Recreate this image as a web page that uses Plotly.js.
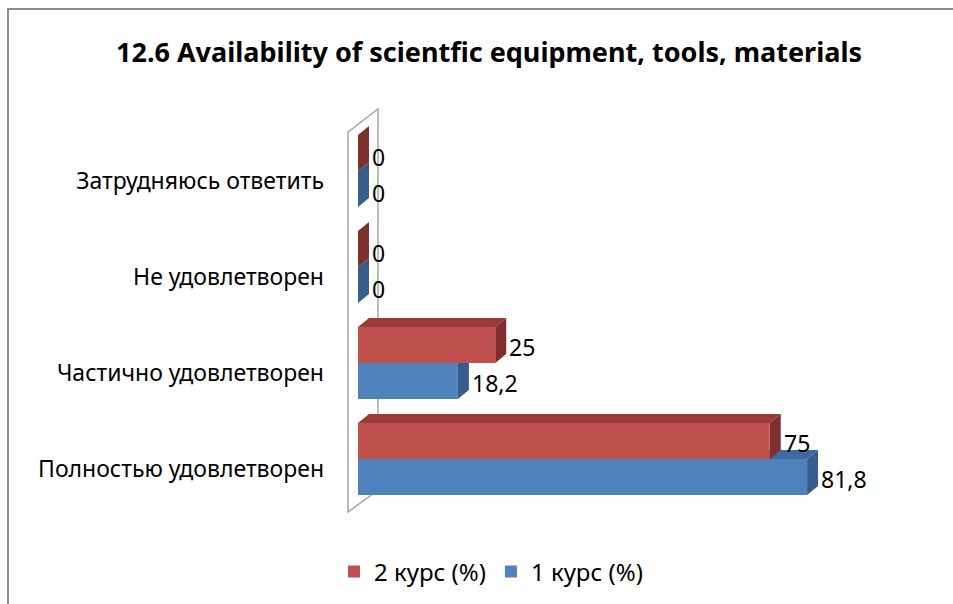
<!DOCTYPE html>
<html>
<head>
<meta charset="utf-8">
<script src="https://cdn.plot.ly/plotly-3.0.1.min.js"></script>
<style>
  html, body { margin: 0; padding: 0; overflow: hidden; background: #fff; }
  #wrap { position: relative; width: 953px; height: 604px; }
  #chart { position: absolute; left: 0; top: 0; width: 953px; height: 604px; }
  #frame { position: absolute; left: 7px; top: 8px; width: 1000px; height: 700px;
           border-left: 2px solid #8c8c8c; border-top: 2px solid #8c8c8c; pointer-events: none; }
</style>
</head>
<body>
<div id="wrap">
  <div id="chart"></div>
  <div id="frame"></div>
</div>
<script>
// ---- data ----
const categories = ["Полностью удовлетворен", "Частично удовлетворен", "Не удовлетворен", "Затрудняюсь ответить"];
const course1 = [81.8, 18.2, 0, 0];   // 1 курс (%)
const course2 = [75, 25, 0, 0];       // 2 курс (%)
const seriesNames = ["1 курс (%)", "2 курс (%)"];
const chartTitle = "12.6 Availability of scientfic equipment, tools, materials";

// ---- style ----
const FONT = "Noto Sans, Open Sans, sans-serif";
const blue = "#4F81BD", blueSide = "#385D8A", blueTop = "#3F6A9E";
const red = "#C0504D", redSide = "#7F302E", redTop = "#9B3B38";
const BAR_W = 0.375;          // half of group width (bargap 0.25)
const DX = 2.0;               // 3D depth along x (data units)
const DY = 0.094;             // 3D depth along y (category units)

const pos = categories.map((c, i) => i);

function faces(values, lower, sideColor, topColor) {
  const shapes = [];
  values.forEach((v, i) => {
    const y0 = lower ? i - BAR_W : i;
    const y1 = y0 + BAR_W;
    if (v > 0) {
      shapes.push({type: "path", layer: "below", xref: "x", yref: "y",
        path: `M0,${y1} L${v},${y1} L${v + DX},${y1 + DY} L${DX},${y1 + DY} Z`,
        fillcolor: topColor, line: {width: 0}});
    }
    shapes.push({type: "path", layer: "below", xref: "x", yref: "y",
      path: `M${v},${y0} L${v},${y1} L${v + DX},${y1 + DY} L${v + DX},${y0 + DY} Z`,
      fillcolor: sideColor, line: {width: 0}});
  });
  return shapes;
}

// back wall outline
const wall = {type: "path", layer: "below", xref: "x", yref: "y",
  path: "M-1.82,-0.552 L-1.82,3.406 L3.64,3.646 L3.64,-0.323 Z",
  fillcolor: "rgba(0,0,0,0)", line: {color: "#a6a6a6", width: 1.5}};

const shapes = [wall].concat(faces(course1, true, blueSide, blueTop), faces(course2, false, redSide, redTop));

function labels(values, lower) {
  return values.map((v, i) => ({
    x: v + DX, y: lower ? i - BAR_W / 2 : i + BAR_W / 2,
    xref: "x", yref: "y", xanchor: "left", yanchor: "middle",
    text: String(v).replace(".", ","), showarrow: false, xshift: 1, yshift: v === 0 ? -4 : -2,
    font: {family: FONT, size: 23, color: "#000"}
  }));
}
const annotations = labels(course1, true).concat(labels(course2, false));

const traces = [
  {type: "bar", orientation: "h", name: seriesNames[0], x: course1, y: pos,
   marker: {color: blue}, hoverinfo: "x+name"},
  {type: "bar", orientation: "h", name: seriesNames[1], x: course2, y: pos,
   marker: {color: red}, hoverinfo: "x+name"}
];

const layout = {
  width: 953, height: 604,
  margin: {l: 340, r: 46, t: 105, b: 89},
  paper_bgcolor: "#fff", plot_bgcolor: "rgba(0,0,0,0)",
  barmode: "group", bargap: 0.25, bargroupgap: 0,
  separators: ",.",
  title: {text: "<b>" + chartTitle + "</b>", x: 489 / 953, xref: "container", xanchor: "center",
          y: 1 - 53 / 604, yref: "container", yanchor: "middle",
          font: {family: FONT, size: 27, color: "#000"}},
  xaxis: {range: [-3.28, 100], visible: false, fixedrange: true},
  yaxis: {range: [-0.583, 3.688], tickvals: pos, ticktext: categories,
          showgrid: false, zeroline: false, showline: false, ticks: "",
          ticklabelstandoff: 15, ticklabelshift: 10,
          tickfont: {family: FONT, size: 23, color: "#000"}, fixedrange: true},
  showlegend: true,
  legend: {orientation: "h", traceorder: "reversed", x: 491 / 953, xref: "container", xanchor: "center",
           y: 1 - 572 / 604, yref: "container", yanchor: "middle",
           font: {family: FONT, size: 24, color: "#000"}, itemwidth: 30},
  shapes: shapes,
  annotations: annotations
};

Plotly.newPlot("chart", traces, layout, {displayModeBar: false, staticPlot: true});
</script>
</body>
</html>
